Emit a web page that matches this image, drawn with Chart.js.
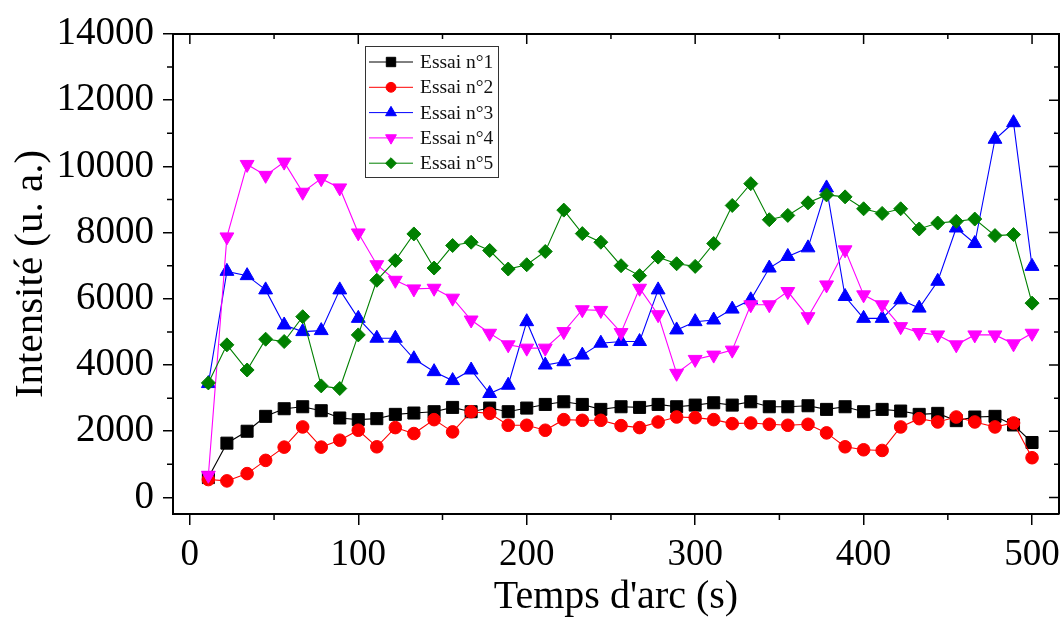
<!DOCTYPE html>
<html>
<head>
<meta charset="utf-8">
<script src="https://cdn.jsdelivr.net/npm/chart.js"></script>
<style>
  html, body { margin: 0; padding: 0; background: #fff; }
  canvas { display: block; }
</style>
</head>
<body>
<canvas id="myChart" width="1061" height="631"></canvas>
<script>
// arc time (s)
var times = [11, 22, 34, 45, 56, 67, 78, 89, 100, 111, 122, 133, 145, 156, 167, 178, 189, 200, 211, 222, 233, 244, 256, 267, 278, 289, 300, 311, 322, 333, 344, 355, 367, 378, 389, 400, 411, 422, 433, 444, 455, 466, 478, 489, 500];

var essai1 = [600, 1640, 2000, 2450, 2680, 2740, 2620, 2400, 2350, 2380, 2510, 2550, 2590, 2720, 2590, 2700, 2590, 2700, 2810, 2890, 2810, 2660, 2740, 2720, 2810, 2740, 2790, 2860, 2790, 2890, 2740, 2740, 2770, 2660, 2740, 2590, 2660, 2610, 2510, 2540, 2320, 2430, 2450, 2190, 1660];
var essai2 = [540, 500, 720, 1120, 1520, 2130, 1520, 1730, 2030, 1530, 2110, 1930, 2350, 1980, 2590, 2540, 2180, 2180, 2030, 2350, 2330, 2330, 2170, 2110, 2280, 2430, 2410, 2350, 2230, 2250, 2210, 2180, 2210, 1950, 1530, 1440, 1420, 2130, 2380, 2280, 2430, 2280, 2130, 2250, 1200];
var essai3 = [3440, 6830, 6700, 6270, 5210, 5010, 5040, 6270, 5410, 4810, 4810, 4190, 3800, 3530, 3850, 3140, 3390, 5310, 4000, 4100, 4300, 4660, 4710, 4710, 6270, 5060, 5310, 5360, 5690, 5970, 6930, 7280, 7540, 9350, 6070, 5410, 5410, 5970, 5720, 6530, 8140, 7670, 10820, 11320, 6980];
var essai4 = [670, 7870, 10060, 9730, 10130, 9220, 9630, 9350, 7990, 7030, 6560, 6300, 6320, 6020, 5360, 4960, 4610, 4510, 4510, 5010, 5670, 5650, 4980, 6320, 5520, 3750, 4170, 4300, 4450, 5820, 5820, 6220, 5460, 6420, 7480, 6120, 5820, 5160, 4980, 4910, 4610, 4910, 4910, 4640, 4960];
var essai5 = [3460, 4610, 3850, 4780, 4710, 5460, 3370, 3290, 4910, 6560, 7160, 7960, 6930, 7610, 7710, 7460, 6900, 7030, 7430, 8680, 7970, 7710, 7000, 6700, 7260, 7060, 6980, 7670, 8820, 9480, 8390, 8520, 8900, 9140, 9080, 8720, 8580, 8720, 8110, 8290, 8340, 8410, 7910, 7940, 5870];

var xTicks = [0, 100, 200, 300, 400, 500];
var yTicks = [0, 2000, 4000, 6000, 8000, 10000, 12000, 14000];

var seriesNames = ["Essai n°1", "Essai n°2", "Essai n°3", "Essai n°4", "Essai n°5"];
var seriesValues = [essai1, essai2, essai3, essai4, essai5];
var seriesColors = ["#000000", "#ff0000", "#0000ff", "#ff00ff", "#008000"];
var markerStyles = ["rect", "circle", "triangle", "triangle", "rectRot"];
var markerRotations = [0, 0, 0, 180, 0];
var markerSizes = [8.5, 6.3, 8, 8, 7];

var serif = "'Liberation Serif', 'Times New Roman', serif";

var datasets = seriesValues.map(function (vals, i) {
  return {
    label: seriesNames[i],
    data: times.map(function (t, k) { return { x: t, y: vals[k] }; }),
    borderColor: seriesColors[i],
    backgroundColor: seriesColors[i],
    pointBackgroundColor: seriesColors[i],
    pointBorderColor: seriesColors[i],
    borderWidth: 1.1,
    pointStyle: markerStyles[i],
    pointRotation: markerRotations[i],
    pointRadius: markerSizes[i],
    pointBorderWidth: 1,
    tension: 0,
    order: seriesValues.length - i
  };
});

// top/right frame, minor ticks and the boxed legend inside the plot
var framePlugin = {
  id: "frame",
  afterDraw: function (chart) {
    var ctx = chart.ctx, a = chart.chartArea, xs = chart.scales.x, ys = chart.scales.y;
    ctx.save();
    ctx.strokeStyle = "#000";
    ctx.lineWidth = 2;
    ctx.beginPath();
    ctx.moveTo(a.left, a.top);
    ctx.lineTo(a.right, a.top);
    ctx.lineTo(a.right, a.bottom);
    ctx.stroke();

    ctx.lineWidth = 1.5;
    ctx.beginPath();
    for (var v = 0; v <= 500; v += 50) {
      var px = xs.getPixelForValue(v), major = v % 100 === 0;
      ctx.moveTo(px, a.top);
      ctx.lineTo(px, a.top + (major ? 10 : 5));
      if (!major) { ctx.moveTo(px, a.bottom); ctx.lineTo(px, a.bottom + 6); }
    }
    for (var w = 0; w <= 14000; w += 1000) {
      var py = ys.getPixelForValue(w), maj = w % 2000 === 0;
      ctx.moveTo(a.right, py);
      ctx.lineTo(a.right - (maj ? 10 : 5), py);
      if (!maj) { ctx.moveTo(a.left, py); ctx.lineTo(a.left - 6, py); }
    }
    ctx.stroke();

    // legend
    var lx = 365, ly = 46, lw = 133, lh = 131, rowH = 25.3;
    ctx.fillStyle = "#fff";
    ctx.fillRect(lx, ly, lw, lh);
    ctx.strokeStyle = "#333";
    ctx.lineWidth = 1;
    ctx.strokeRect(lx + 0.5, ly + 0.5, lw, lh);
    chart.data.datasets.forEach(function (ds, i) {
      var cy = ly + 16 + i * rowH;
      ctx.strokeStyle = ds.borderColor;
      ctx.lineWidth = 1;
      ctx.beginPath();
      ctx.moveTo(lx + 4, cy);
      ctx.lineTo(lx + 48, cy);
      ctx.stroke();
      ctx.fillStyle = ds.pointBackgroundColor;
      ctx.strokeStyle = ds.pointBorderColor;
      Chart.helpers.drawPoint(ctx, {
        pointStyle: ds.pointStyle,
        rotation: ds.pointRotation,
        radius: ds.pointRadius * 0.78,
        borderWidth: 1
      }, lx + 26, cy);
      ctx.fillStyle = "#111";
      ctx.font = "19.5px " + serif;
      ctx.textBaseline = "middle";
      ctx.textAlign = "left";
      ctx.fillText(ds.label, lx + 55, cy + 1);
    });
    ctx.restore();
  }
};

function plainLabel(value) { return String(value); }

new Chart("myChart", {
  type: "line",
  data: { datasets: datasets },
  plugins: [framePlugin],
  options: {
    responsive: false,
    animation: false,
    layout: { autoPadding: false, padding: { top: 34, right: 2, left: 0, bottom: 0 } },
    plugins: {
      legend: { display: false },
      tooltip: { enabled: false }
    },
    scales: {
      x: {
        type: "linear",
        min: -10,
        max: 516,
        afterBuildTicks: function (s) {
          s.ticks = xTicks.map(function (v) { return { value: v }; });
        },
        afterFit: function (s) {
          s.height = 117;
          s.paddingLeft = 0;
          s.paddingRight = 0;
        },
        ticks: {
          autoSkip: false,
          maxRotation: 0,
          padding: 8,
          color: "#000",
          font: { family: serif, size: 37 },
          callback: plainLabel
        },
        grid: { drawOnChartArea: false, drawTicks: true, tickLength: 11, color: "#000", lineWidth: 1.5 },
        border: { display: true, color: "#000", width: 2 },
        title: {
          display: true,
          text: "Temps d'arc (s)",
          color: "#000",
          font: { family: serif, size: 40 },
          padding: { top: 0, bottom: 10 }
        }
      },
      y: {
        min: -500,
        max: 14000,
        afterBuildTicks: function (s) {
          s.ticks = yTicks.map(function (v) { return { value: v }; });
        },
        afterFit: function (s) {
          s.width = 173;
          s.paddingTop = 0;
          s.paddingBottom = 0;
        },
        ticks: {
          padding: 9,
          color: "#000",
          font: { family: serif, size: 39 },
          callback: plainLabel
        },
        grid: { drawOnChartArea: false, drawTicks: true, tickLength: 10, color: "#000", lineWidth: 1.5 },
        border: { display: true, color: "#000", width: 2 },
        title: {
          display: true,
          text: "Intensité (u. a.)",
          color: "#000",
          font: { family: serif, size: 41 },
          padding: { top: 7, bottom: 0 }
        }
      }
    }
  }
});
</script>
</body>
</html>
